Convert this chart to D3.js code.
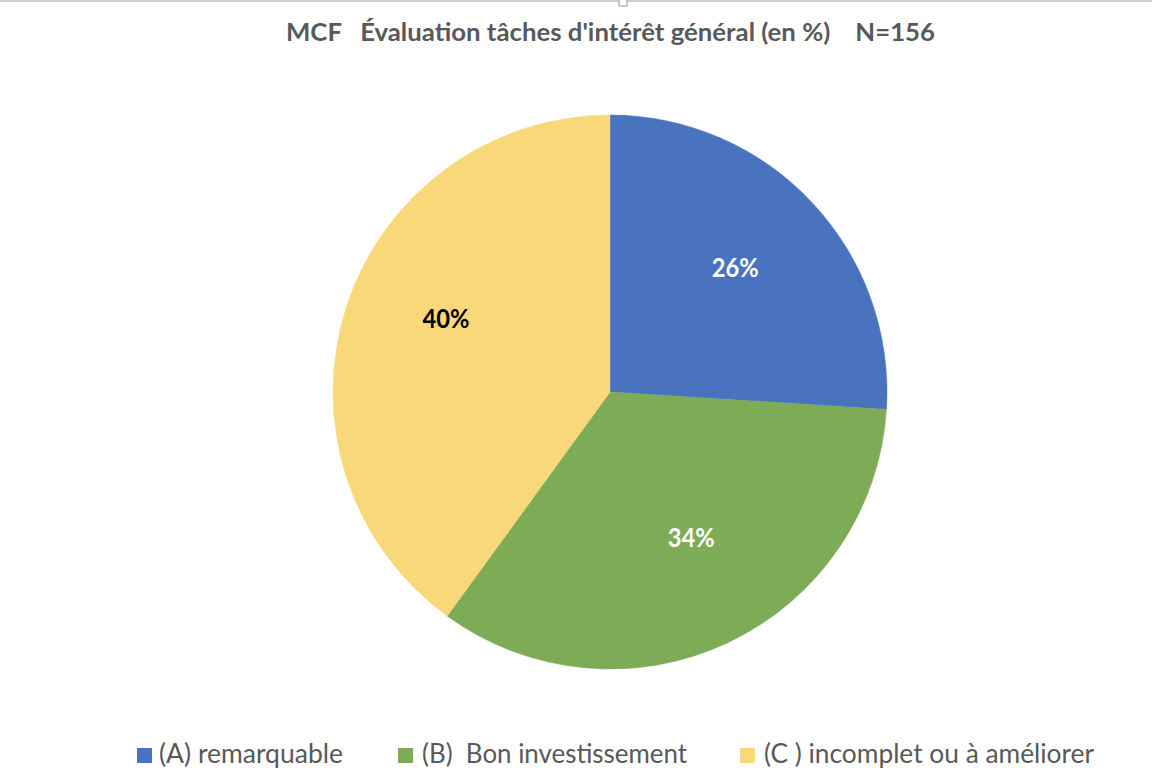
<!DOCTYPE html>
<html lang="fr">
<head>
<meta charset="utf-8">
<script src="https://d3js.org/d3.v7.min.js"></script>
<style>
  body { margin: 0; background: #fff; }
  svg { display: block; font-family: Lato, "Open Sans", sans-serif; }
</style>
</head>
<body>
<div id="chart"></div>
<script>
// data
var categories = ["(A) remarquable", "(B)  Bon investissement", "(C ) incomplet ou à améliorer"];
var values = [26, 34, 40];
var labels = ["26%", "34%", "40%"];

// style / layout
var colors = ["#4A73BF", "#7EAB55", "#F8D878"];
var labelColors = ["#ffffff", "#ffffff", "#000000"];
var labelNudge = [[-2, -5], [7, -13], [2, -20]];   // Excel best-fit offsets from centroid
var legendX = [137, 398, 740];
var legendW = [184, 265, 330];

var width = 1152, height = 784;
var cx = 610, cy = 392, r = 277;

var svg = d3.select("#chart").append("svg")
  .attr("width", width)
  .attr("height", height);

// frame line + handle at top (window edge)
svg.append("rect").attr("x", 0).attr("y", 0).attr("width", width).attr("height", 2).attr("fill", "#cfcfcf");
svg.append("rect").attr("x", 619).attr("y", -1).attr("width", 8).attr("height", 7)
  .attr("fill", "#fff").attr("stroke", "#9a9a9a").attr("stroke-width", 1);

// title
svg.append("text")
  .attr("x", 286).attr("y", 41)
  .attr("fill", "#595959")
  .attr("font-size", 25).attr("font-weight", "bold")
  .attr("xml:space", "preserve")
  .attr("textLength", 649).attr("lengthAdjust", "spacingAndGlyphs")
  .text("MCF   Évaluation tâches d'intérêt général (en %)    N=156");

var pie = d3.pie().sort(null).value(function(d) { return d; });
var arcs = pie(values);
var arc = d3.arc().innerRadius(0).outerRadius(r);
var labelArc = d3.arc().innerRadius(r * 0.63).outerRadius(r * 0.63);

var g = svg.append("g").attr("transform", "translate(" + cx + "," + cy + ")");

g.selectAll("path")
  .data(arcs)
  .enter().append("path")
  .attr("d", arc)
  .attr("fill", function(d, i) { return colors[i]; })
  .attr("stroke", function(d, i) { return colors[i]; })
  .attr("stroke-width", 0.5);

g.selectAll("text.lbl")
  .data(arcs)
  .enter().append("text")
  .attr("class", "lbl")
  .attr("transform", function(d, i) {
    var c = labelArc.centroid(d);
    return "translate(" + (c[0] + labelNudge[i][0]) + "," + (c[1] + labelNudge[i][1]) + ")";
  })
  .attr("text-anchor", "middle")
  .attr("dy", "0.36em")
  .attr("font-size", 27).attr("font-weight", "bold")
  .attr("textLength", 47).attr("lengthAdjust", "spacingAndGlyphs")
  .attr("fill", function(d, i) { return labelColors[i]; })
  .text(function(d, i) { return labels[i]; });

// legend
var leg = svg.selectAll("g.leg")
  .data(categories)
  .enter().append("g")
  .attr("class", "leg")
  .attr("transform", function(d, i) { return "translate(" + legendX[i] + ",748)"; });

leg.append("rect")
  .attr("width", 15).attr("height", 15)
  .attr("fill", function(d, i) { return colors[i]; });

leg.append("text")
  .attr("x", function(d, i) { return i === 0 ? 22 : 24; }).attr("y", 15)
  .attr("fill", "#595959")
  .attr("font-size", 26)
  .attr("xml:space", "preserve")
  .attr("textLength", function(d, i) { return legendW[i]; })
  .attr("lengthAdjust", "spacingAndGlyphs")
  .text(function(d) { return d; });
</script>
</body>
</html>
